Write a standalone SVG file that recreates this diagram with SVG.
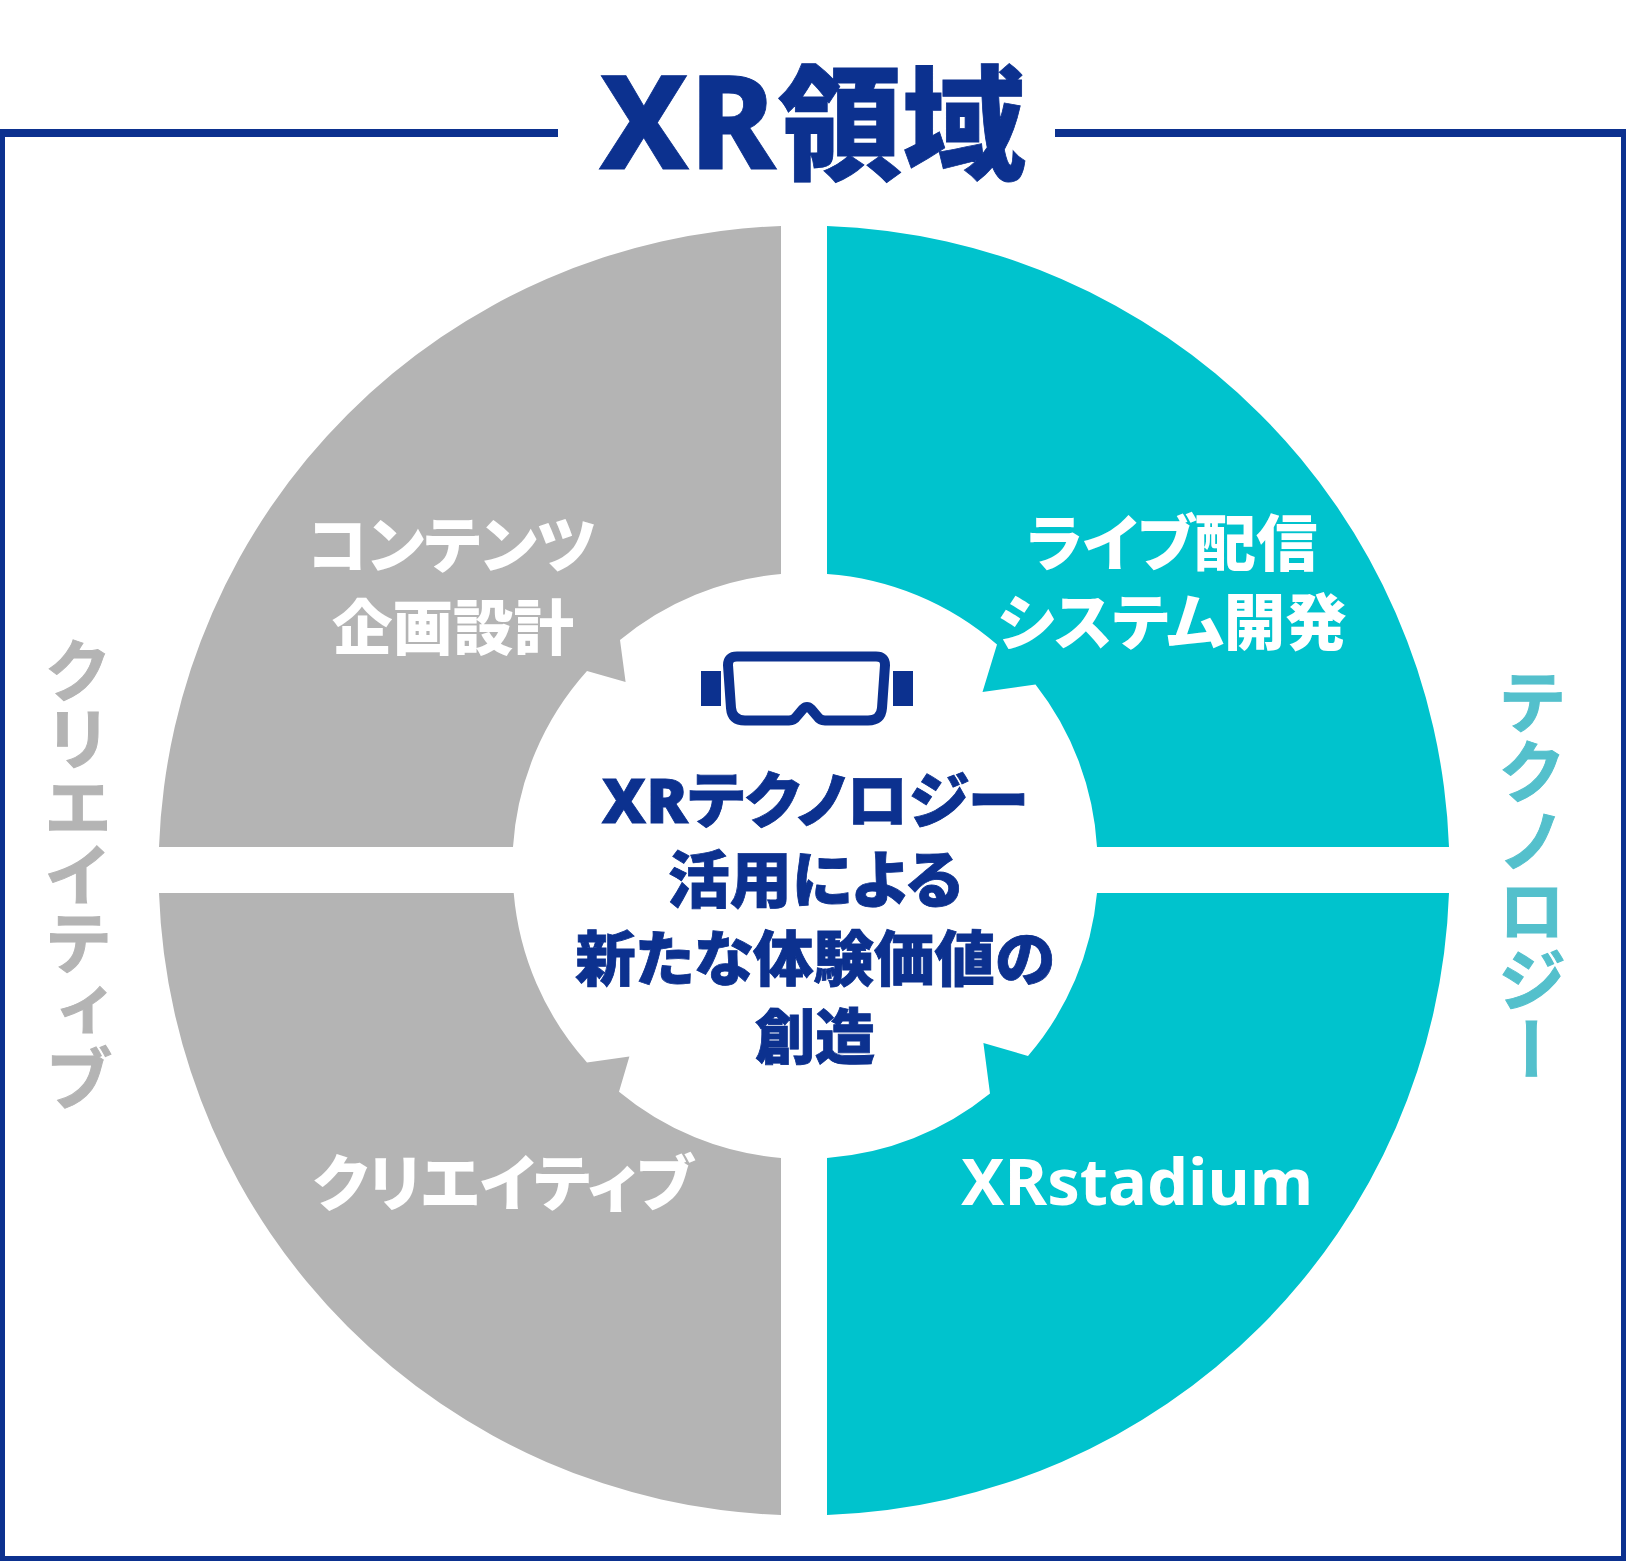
<svg xmlns="http://www.w3.org/2000/svg" width="1626" height="1561" viewBox="0 0 1626 1561">
<style>
text{font-family:"Noto Sans","Noto Sans CJK JP",sans-serif;font-feature-settings:"palt"}
.c{text-anchor:middle}
.n{fill:#0c318f;font-weight:900;stroke:#0c318f;stroke-width:.8px}
.w{fill:#fff;font-weight:900;font-size:61.500px}
.v{font-family:"Noto Sans CJK JP",sans-serif;font-feature-settings:normal;writing-mode:vertical-rl;text-orientation:upright;font-weight:700;stroke-width:1px}
.g{fill:#b4b4b4}.t{fill:#00c3cd}
</style>
<rect width="1626" height="1561" fill="#fff"/>
<g id="frame"><path d="M558 133H2.500V1558.500H1623.500V133H1055" fill="none" stroke="#0c318f" stroke-width="5"/><rect x="0" y="129" width="558" height="8" fill="#0c318f"/><rect x="1055" y="129" width="571" height="8" fill="#0c318f"/></g>
<text id="title" class="n" font-size="130"><tspan x="599" y="169" style="font-weight:800">XR</tspan><tspan x="778" y="170" font-size="124">領域</tspan></text>
<g id="quad-content"><path class="g" d="M781 226A645 645 0 0 0 159 847H513A291 291 0 0 1 587 671L625.600 682L620 640A291 291 0 0 1 781 574Z"/><text class="c w" x="452" y="568">コンテンツ</text><text class="c w" x="453" y="650" style="font-size:60.500px">企画設計</text></g>
<g id="quad-live"><path class="t" d="M827 226A645 645 0 0 1 1449 847H1097A291 291 0 0 0 1035.500 684.600L982.500 692L997 644.600A291 291 0 0 0 827 574Z"/><text class="c w" x="1172" y="566">ライブ配信</text><text class="c w" x="1172" y="645">システム開発</text></g>
<g id="quad-creative"><path class="g" d="M781 1515A645 645 0 0 1 159 893H513.700A291 291 0 0 0 587 1062.500L629.400 1056.400L619 1091.800A291 291 0 0 0 781 1158Z"/><text class="c w" x="503" y="1206">クリエイティブ</text></g>
<g id="quad-stadium"><path class="t" d="M827 1515A645 645 0 0 0 1449 893H1097A291 291 0 0 1 1028 1056L983.400 1043L990 1093.600A291 291 0 0 1 827 1158Z"/><text class="w c" style="font-size:65px;font-weight:700" x="1137" y="1205">XRstadium</text></g>
<g id="center"><g id="goggles"><rect x="701" y="671" width="20" height="35" fill="#0c318f"/><rect x="893" y="671" width="20" height="35" fill="#0c318f"/><path d="M737 656.500H876Q885 656.500 885 665L882 708Q881 720.500 868 720.500H825Q820 720.500 817 716L811 709Q807 705 803 709L797 716Q794 720.500 789 720.500H745Q732 720.500 731 708L728 665Q728 656.500 737 656.500Z" fill="none" stroke="#0c318f" stroke-width="10"/></g>
<text class="c n" font-size="61.500" x="815" y="823">XRテクノロジー</text>
<text class="c n" font-size="62" x="815" y="903">活用による</text>
<text class="c n" font-size="60.500" x="815" y="981">新たな体験価値の</text>
<text class="c n" font-size="60" x="815" y="1059">創造</text></g>
<text id="side-left" class="v g" stroke="#b4b4b4" font-size="69" letter-spacing="-1" x="78" y="636">クリエイティブ</text>
<text id="side-right" class="v" fill="#54c0cc" stroke="#54c0cc" font-size="69.500" x="1532" y="667">テクノロジー</text>
</svg>
